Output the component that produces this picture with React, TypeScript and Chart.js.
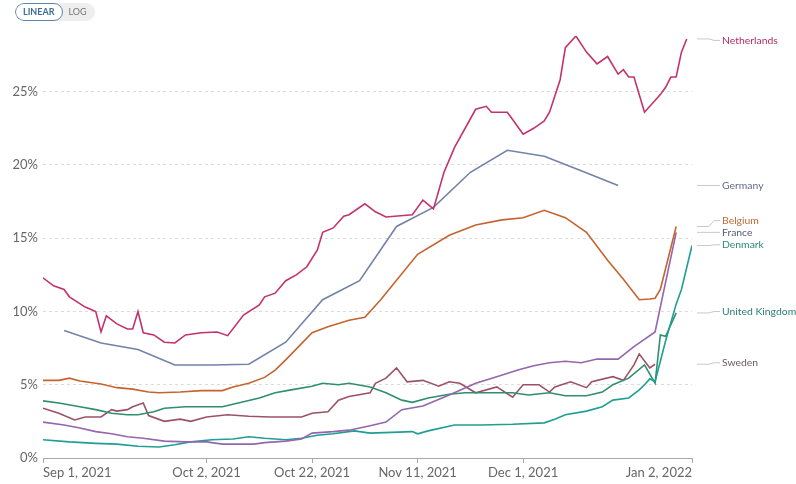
import React, { useEffect, useRef } from "react";
import { Chart, registerables } from "chart.js";

Chart.register(...registerables);

// x values are days since Sep 1, 2021
const tickDays = [0, 31, 51, 71, 91, 123];
const tickLabels = ["Sep 1, 2021", "Oct 2, 2021", "Oct 22, 2021", "Nov 11, 2021", "Dec 1, 2021", "Jan 2, 2022"];
const yTicks = [0, 5, 10, 15, 20, 25];

const nlDays = [0, 2, 4, 5, 8, 10, 11, 12, 14, 16, 17, 18, 19, 21, 23, 25, 27, 30, 33, 35, 38, 41, 42, 44, 46, 48, 50, 52, 53, 55, 57, 58, 61, 63, 65, 70, 72, 74, 76, 78, 82, 84, 85, 88, 89, 91, 93, 95, 96, 98, 99, 101, 103, 105, 107, 109, 110, 111, 112, 114, 117, 118, 119, 120, 121, 122];
const nlValues = [12.3, 11.75, 11.5, 11.0, 10.3, 10.0, 8.6, 9.7, 9.15, 8.8, 8.8, 10.0, 8.55, 8.4, 7.9, 7.85, 8.4, 8.55, 8.6, 8.35, 9.75, 10.45, 11.0, 11.25, 12.1, 12.5, 13.05, 14.2, 15.4, 15.7, 16.5, 16.6, 17.35, 16.8, 16.45, 16.6, 17.6, 17.0, 19.5, 21.2, 23.8, 24.0, 23.6, 23.6, 23.1, 22.1, 22.5, 23.0, 23.6, 25.8, 28.0, 28.8, 27.7, 26.9, 27.4, 26.2, 26.5, 26.0, 26.0, 23.6, 24.8, 25.3, 26.0, 26.0, 27.7, 28.6];

const deDays = [4, 11, 18, 25, 32, 39, 46, 53, 60, 67, 74, 81, 88, 95, 102, 109];
const deValues = [8.7, 7.85, 7.4, 6.35, 6.35, 6.4, 7.9, 10.8, 12.1, 15.8, 17.1, 19.5, 21.0, 20.6, 19.6, 18.6];

const beDays = [0, 3, 5, 7, 11, 14, 17, 20, 22, 26, 30, 34, 36, 39, 42, 44, 46, 51, 54, 58, 61, 64, 71, 77, 82, 87, 91, 95, 99, 103, 107, 110, 113, 115, 116, 117, 120];
const beValues = [5.3, 5.3, 5.45, 5.25, 5.05, 4.8, 4.7, 4.5, 4.45, 4.5, 4.6, 4.6, 4.85, 5.1, 5.5, 6.0, 6.7, 8.55, 8.95, 9.4, 9.6, 10.8, 13.9, 15.2, 15.9, 16.25, 16.4, 16.9, 16.4, 15.4, 13.5, 12.2, 10.8, 10.85, 10.9, 11.5, 15.8];

const frDays = [0, 4, 7, 10, 13, 16, 19, 23, 27, 31, 34, 40, 42, 46, 49, 51, 55, 58, 62, 65, 68, 72, 77, 82, 86, 90, 93, 96, 99, 102, 105, 109, 112, 116, 120];
const frValues = [2.45, 2.25, 2.05, 1.8, 1.65, 1.45, 1.35, 1.15, 1.1, 1.1, 0.95, 0.95, 1.05, 1.15, 1.3, 1.7, 1.8, 1.9, 2.2, 2.45, 3.3, 3.55, 4.3, 5.1, 5.55, 6.0, 6.3, 6.5, 6.6, 6.5, 6.75, 6.75, 7.6, 8.6, 15.4];

const dkDays = [0, 5, 10, 14, 18, 22, 25, 28, 32, 36, 39, 42, 46, 49, 52, 55, 59, 62, 70, 71, 73, 78, 83, 89, 95, 97, 99, 103, 106, 108, 111, 113, 114, 115, 116, 118, 120, 121, 123];
const dkValues = [1.25, 1.1, 1.0, 0.95, 0.8, 0.75, 0.9, 1.1, 1.25, 1.3, 1.45, 1.35, 1.25, 1.35, 1.55, 1.65, 1.85, 1.7, 1.8, 1.65, 1.85, 2.25, 2.25, 2.3, 2.4, 2.65, 2.95, 3.2, 3.5, 3.95, 4.1, 4.65, 5.0, 5.4, 5.2, 8.0, 10.5, 11.5, 14.5];

const ukDays = [0, 3, 7, 10, 13, 16, 18, 21, 23, 27, 31, 34, 37, 41, 44, 47, 51, 53, 56, 58, 62, 65, 68, 70, 73, 77, 80, 83, 89, 92, 96, 99, 103, 106, 108, 111, 114, 116, 117, 118, 120];
const ukValues = [3.9, 3.75, 3.5, 3.3, 3.05, 2.95, 2.95, 3.15, 3.4, 3.5, 3.5, 3.5, 3.75, 4.1, 4.45, 4.65, 4.9, 5.1, 5.0, 5.1, 4.85, 4.45, 3.95, 3.8, 4.1, 4.35, 4.45, 4.45, 4.45, 4.3, 4.45, 4.25, 4.25, 4.5, 5.0, 5.45, 6.35, 5.1, 8.4, 8.3, 9.9];

const seDays = [0, 3, 6, 8, 11, 13, 14, 16, 17, 19, 20, 23, 26, 28, 31, 35, 39, 43, 49, 51, 54, 56, 58, 62, 63, 65, 67, 69, 72, 75, 77, 79, 82, 86, 89, 91, 94, 96, 97, 100, 103, 104, 108, 110, 112, 113, 115, 116];
const seValues = [3.4, 3.05, 2.6, 2.8, 2.8, 3.3, 3.2, 3.3, 3.5, 3.75, 2.9, 2.5, 2.65, 2.5, 2.8, 2.95, 2.85, 2.8, 2.8, 3.05, 3.15, 3.95, 4.2, 4.45, 5.1, 5.45, 6.15, 5.2, 5.3, 4.9, 5.2, 5.1, 4.45, 4.85, 4.15, 5.0, 5.0, 4.5, 4.85, 5.2, 4.8, 5.2, 5.55, 5.3, 6.35, 7.1, 6.15, 6.4];

const seriesNames = ["Netherlands", "Germany", "Belgium", "France", "Denmark", "United Kingdom", "Sweden"];
const seriesDays = [nlDays, deDays, beDays, frDays, dkDays, ukDays, seDays];
const seriesValues = [nlValues, deValues, beValues, frValues, dkValues, ukValues, seValues];
const lineColors = ["#c3326c", "#7282a8", "#c6632e", "#9466ad", "#1f9e93", "#2f8f6c", "#9c5264"];
const labelColors = ["#b02d62", "#5f6b86", "#c06a36", "#55577a", "#2a8a78", "#2b7f74", "#6e5a62"];
// label positions in data units (for end-of-line labels)
const labelValues = [28.5, 18.6, 16.2, 15.4, 14.55, 10.0, 6.5];

const FONT = "Lato, 'Open Sans', sans-serif";

const endLabels = {
  id: "endLabels",
  afterDraw(chart: any) {
    const ctx = chart.ctx;
    const ys = chart.scales.y;
    const right = chart.chartArea.right;
    ctx.save();
    seriesNames.forEach((name, i) => {
      const vals = seriesValues[i];
      const yEnd = ys.getPixelForValue(vals[vals.length - 1]);
      const yLab = ys.getPixelForValue(labelValues[i]);
      const x0 = right + 5;
      ctx.strokeStyle = "#c8c8c8";
      ctx.lineWidth = 1;
      ctx.beginPath();
      ctx.moveTo(x0, yEnd);
      ctx.lineTo(x0 + 12, yEnd);
      ctx.lineTo(x0 + 17, yLab);
      ctx.lineTo(x0 + 23, yLab);
      ctx.stroke();
      ctx.fillStyle = labelColors[i];
      ctx.font = `10.4px ${FONT}`;
      ctx.textBaseline = "middle";
      ctx.textAlign = "left";
      ctx.fillText(name, x0 + 25, yLab);
    });
    ctx.restore();
  },
};

export default function App() {
  const ref = useRef<HTMLCanvasElement>(null);
  useEffect(() => {
    if (!ref.current) return;
    const datasets = seriesNames.map((name, i) => ({
      label: name,
      data: seriesDays[i].map((d, j) => ({ x: d, y: seriesValues[i][j] })),
      borderColor: lineColors[i],
      backgroundColor: lineColors[i],
      borderWidth: 1.6,
      pointRadius: 0,
      tension: 0,
      fill: false,
    }));
    const chart = new Chart(ref.current, {
      type: "line",
      data: { datasets },
      options: {
        animation: false,
        responsive: false,
        devicePixelRatio: 1,
        layout: { padding: { left: 0, right: 104, top: 36, bottom: 0 } },
        plugins: { legend: { display: false }, tooltip: { enabled: false } },
        scales: {
          x: {
            type: "linear",
            min: tickDays[0],
            max: tickDays[tickDays.length - 1],
            afterBuildTicks: (s: any) => {
              s.ticks = tickDays.map((v) => ({ value: v }));
            },
            afterFit: (s: any) => {
              s.height = 26;
            },
            ticks: {
              autoSkip: false,
              maxRotation: 0,
              align: "inner",
              padding: 2,
              color: "#666",
              font: { family: FONT, size: 13 },
              callback: (v: any) => tickLabels[tickDays.indexOf(v)],
            },
            grid: { drawOnChartArea: false, drawTicks: true, tickLength: 5, color: "#a8a8a8" },
            border: { display: true, color: "#a8a8a8" },
          },
          y: {
            type: "linear",
            min: 0,
            max: 28.8,
            afterBuildTicks: (s: any) => {
              s.ticks = yTicks.map((v) => ({ value: v }));
            },
            afterFit: (s: any) => {
              s.width = 43;
            },
            ticks: {
              padding: 5,
              color: "#666",
              font: { family: FONT, size: 13 },
              callback: (v: any) => v + "%",
            },
            grid: { drawTicks: false, color: "#dcdcdc" },
            border: { display: false, dash: [3, 3] },
          },
        },
      },
      plugins: [endLabels],
    });
    return () => chart.destroy();
  }, []);

  return (
    <div style={{ position: "absolute", left: 0, top: 0, width: 796, height: 484, background: "#fff" }}>
      <canvas ref={ref} width={796} height={484} style={{ display: "block" }} />
      <div
        style={{
          position: "absolute",
          left: 15,
          top: 3,
          height: 18,
          display: "flex",
          fontFamily: FONT,
          fontSize: 9,
          fontWeight: 700,
          lineHeight: "18px",
          borderRadius: 9,
          background: "#eeeeee",
          overflow: "hidden",
        }}
      >
        <div
          style={{
            padding: "0 7px",
            color: "#3b6c9a",
            background: "#fff",
            border: "1.5px solid #5a85ad",
            borderRadius: 9,
            lineHeight: "15px",
          }}
        >
          LINEAR
        </div>
        <div style={{ padding: "0 8px 0 6px", color: "#777", fontWeight: 400 }}>LOG</div>
      </div>
    </div>
  );
}
